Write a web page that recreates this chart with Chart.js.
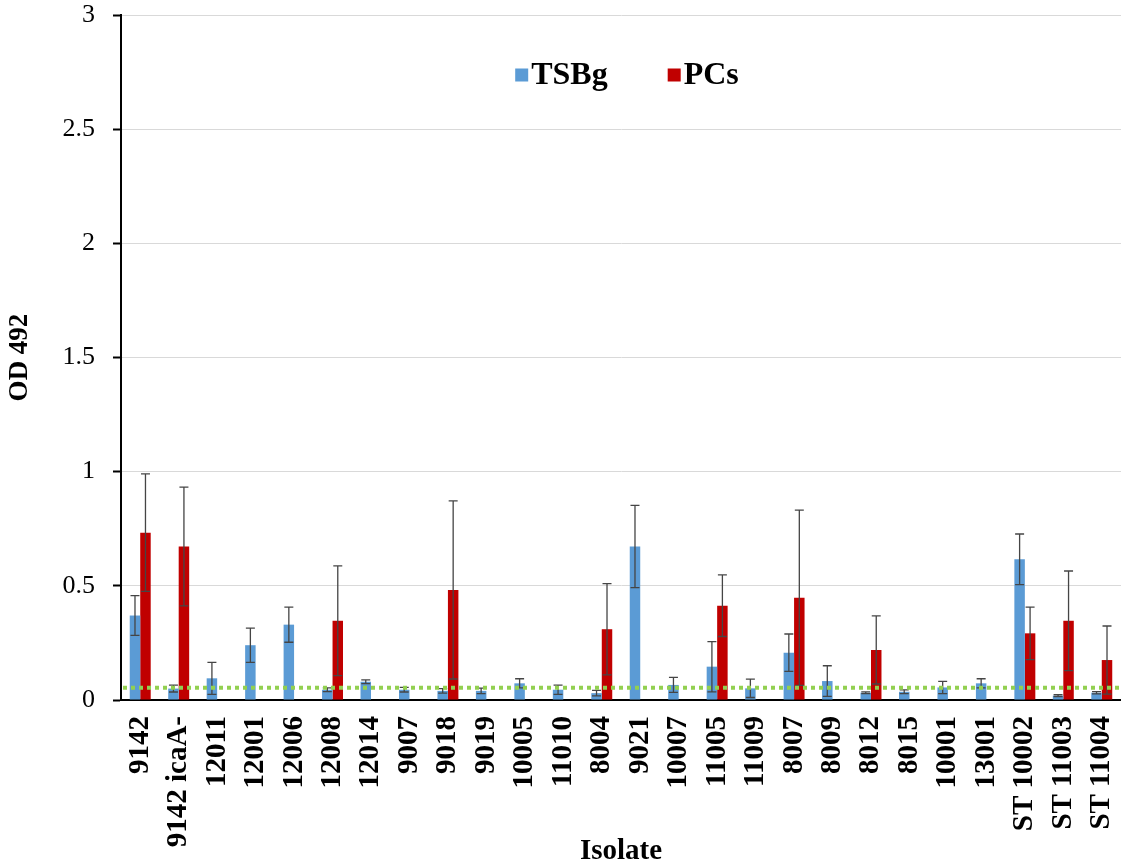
<!DOCTYPE html>
<html>
<head>
<meta charset="utf-8">
<script src="https://cdn.jsdelivr.net/npm/chart.js@4.4.1/dist/chart.umd.min.js"></script>
<style>
  html, body { margin: 0; padding: 0; background: #fff; }
</style>
</head>
<body>
<canvas id="odChart" width="1121" height="865"></canvas>
<script>
// isolates on the x axis
const isolates = ['9142', '9142 icaA-', '12011', '12001', '12006', '12008', '12014', '9007', '9018', '9019',
  '10005', '11010', '8004', '9021', '10007', '11005', '11009', '8007', '8009', '8012',
  '8015', '10001', '13001', 'ST 10002', 'ST 11003', 'ST 11004'];

// OD 492 in TSBg
const tsbgValues = [0.37, 0.05, 0.095, 0.24, 0.33, 0.045, 0.08, 0.045, 0.04, 0.04,
  0.073, 0.045, 0.03, 0.672, 0.066, 0.146, 0.051, 0.207, 0.083, 0.032,
  0.036, 0.055, 0.073, 0.616, 0.019, 0.032];
const tsbgErrors = [0.087, 0.015, 0.07, 0.075, 0.077, 0.008, 0.008, 0.01, 0.01, 0.012,
  0.02, 0.02, 0.012, 0.18, 0.033, 0.11, 0.04, 0.082, 0.067, 0.004,
  0.008, 0.027, 0.02, 0.111, 0.004, 0.005];

// OD 492 in PCs (not measured for every isolate)
const pcsValues = [0.733, 0.672, null, null, null, 0.347, null, null, 0.482, null,
  null, null, 0.31, null, null, 0.413, null, 0.448, null, 0.219,
  null, null, null, 0.292, 0.347, 0.175];
const pcsErrors = [0.257, 0.26, null, null, null, 0.24, null, null, 0.39, null,
  null, null, 0.2, null, null, 0.135, null, 0.384, null, 0.149,
  null, null, null, 0.115, 0.218, 0.149];

// cut-off value (dotted green line)
const cutoff = 0.054;

const yTicks = [0, 0.5, 1, 1.5, 2, 2.5, 3];

Chart.defaults.font.family = "'Liberation Serif', 'Times New Roman', serif";
Chart.defaults.color = '#000';

// draws the error bars and the cut-off line on top of the bars
const errorBarsPlugin = {
  id: 'errorBars',
  afterDatasetsDraw(chart) {
    const ctx = chart.ctx;
    const yScale = chart.scales.y;
    const area = chart.chartArea;
    ctx.save();
    ctx.strokeStyle = '#454545';
    ctx.lineWidth = 1.3;
    chart.data.datasets.forEach((ds, di) => {
      const meta = chart.getDatasetMeta(di);
      meta.data.forEach((bar, i) => {
        const v = ds.data[i];
        const e = ds.errors[i];
        if (v == null || e == null) return;
        const x = bar.x;
        const yTop = yScale.getPixelForValue(v + e);
        const yBot = yScale.getPixelForValue(Math.max(v - e, 0));
        ctx.beginPath();
        ctx.moveTo(x, yTop);
        ctx.lineTo(x, yBot);
        ctx.moveTo(x - 4.5, yTop);
        ctx.lineTo(x + 4.5, yTop);
        ctx.moveTo(x - 4.5, yBot);
        ctx.lineTo(x + 4.5, yBot);
        ctx.stroke();
      });
    });

    //linea de corte
    const yc = yScale.getPixelForValue(cutoff);
    ctx.strokeStyle = '#92D050';
    ctx.lineWidth = 4;
    ctx.setLineDash([4, 4]);
    ctx.beginPath();
    ctx.moveTo(area.left + 2, yc);
    ctx.lineTo(area.right, yc);
    ctx.stroke();
    ctx.restore();
  }
};

// legend inside the plot, as in the original (small square, bold label)
const innerLegendPlugin = {
  id: 'innerLegend',
  afterDraw(chart) {
    const ctx = chart.ctx;
    const area = chart.chartArea;
    const box = 13, gap = 3, itemGap = 60;
    ctx.save();
    ctx.font = "bold 32px 'Liberation Serif', 'Times New Roman', serif";
    ctx.textBaseline = 'middle';
    const items = chart.data.datasets.map((ds) => ({
      text: ds.label,
      color: ds.backgroundColor,
      w: box + gap + ctx.measureText(ds.label).width
    }));
    const total = items.reduce((s, it) => s + it.w, 0) + itemGap * (items.length - 1);
    let x = (area.left + area.right) / 2 + 6 - total / 2;
    const y = 76;
    items.forEach((it) => {
      ctx.fillStyle = it.color;
      ctx.fillRect(x, y - box / 2 - 1, box, box);
      ctx.fillStyle = '#000';
      ctx.fillText(it.text, x + box + gap, y);
      x += it.w + itemGap;
    });
    ctx.restore();
  }
};

new Chart(document.getElementById('odChart'), {
  type: 'bar',
  data: {
    labels: isolates,
    datasets: [
      {
        label: 'TSBg',
        data: tsbgValues,
        errors: tsbgErrors,
        backgroundColor: '#5B9BD5',
        categoryPercentage: 0.545,
        barPercentage: 1.0
      },
      {
        label: 'PCs',
        data: pcsValues,
        errors: pcsErrors,
        backgroundColor: '#C00000',
        categoryPercentage: 0.545,
        barPercentage: 1.0
      }
    ]
  },
  options: {
    responsive: false,
    devicePixelRatio: 1,
    animation: false,
    layout: { padding: { top: 15, right: 0, bottom: 0, left: 0 } },
    plugins: {
      tooltip: { enabled: false },
      legend: { display: false }
    },
    scales: {
      x: {
        grid: { display: false, drawTicks: false },
        border: { display: true, color: '#000', width: 2 },
        ticks: {
          autoSkip: false,
          minRotation: 90,
          maxRotation: 90,
          padding: 16,
          color: '#000',
          font: { size: 29, weight: 'bold' }
        },
        title: {
          display: true,
          text: 'Isolate',
          color: '#000',
          padding: { top: 0, bottom: -4 },
          font: { size: 29, weight: 'bold' }
        },
        afterFit(scale) {
          scale.height = 165;
          scale.paddingLeft = 0;
          scale.paddingRight = 0;
        }
      },
      y: {
        min: 0,
        max: 3,
        afterBuildTicks(scale) {
          scale.ticks = yTicks.map((v) => ({ value: v }));
        },
        grid: {
          color: '#d9d9d9',
          lineWidth: 1,
          drawTicks: true,
          tickLength: 8,
          tickColor: '#000',
          tickWidth: 2
        },
        border: { display: true, color: '#000', width: 2 },
        ticks: {
          padding: 18,
          color: '#000',
          font: { size: 26 },
          callback: (v) => String(v)
        },
        title: {
          display: true,
          text: 'OD 492',
          color: '#000',
          padding: { top: 4, bottom: 0 },
          font: { size: 27, weight: 'bold' }
        },
        afterFit(scale) {
          scale.width = 121;
          scale.paddingTop = 0;
          scale.paddingBottom = 0;
        }
      }
    }
  },
  plugins: [errorBarsPlugin, innerLegendPlugin]
});
</script>
</body>
</html>
